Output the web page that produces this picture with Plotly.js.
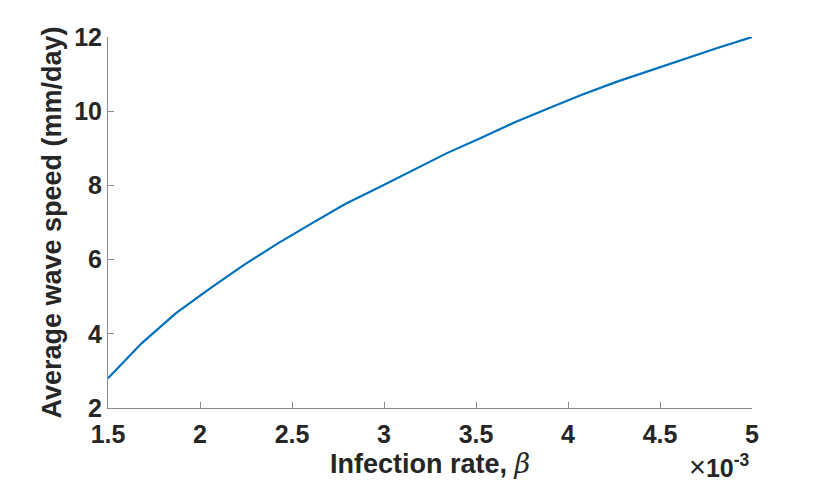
<!DOCTYPE html>
<html>
<head>
<meta charset="utf-8">
<script src="https://cdn.plot.ly/plotly-3.0.1.min.js"></script>
<style>
  html, body { margin: 0; padding: 0; background: #fff; }
  #chart { width: 830px; height: 488px; }
</style>
</head>
<body>
<div id="chart"></div>
<script>
// infection rate beta (x 10^-3) and average wave speed (mm/day)
const beta = [1.5, 1.684, 1.868, 2.053, 2.237, 2.421, 2.605, 2.789, 2.974, 3.158,
              3.342, 3.526, 3.711, 3.895, 4.079, 4.263, 4.447, 4.632, 4.816, 5.0];
const speed = [2.8, 3.75, 4.55, 5.22, 5.85, 6.43, 6.97, 7.5, 7.95, 8.42,
               8.87, 9.28, 9.7, 10.08, 10.45, 10.79, 11.1, 11.42, 11.71, 12.0];
const xTicks = [1.5, 2, 2.5, 3, 3.5, 4, 4.5, 5];
const yTicks = [2, 4, 6, 8, 10, 12];

const txt = '#262626';
const axc = '#8a8a8a';
const fam = 'Liberation Sans, Arial, Helvetica, sans-serif';

let trace = {
  x: beta,
  y: speed,
  type: 'scatter',
  mode: 'lines',
  line: { color: '#0072BD', width: 2.2 },
  hoverinfo: 'none'
};

let layout = {
  width: 830,
  height: 488,
  margin: { l: 108, r: 78, t: 37, b: 80 },
  paper_bgcolor: '#fff',
  plot_bgcolor: '#fff',
  showlegend: false,
  font: { family: fam, color: txt },
  xaxis: {
    range: [1.5, 5],
    tickvals: xTicks,
    ticktext: xTicks.map(String),
    ticks: 'inside',
    ticklen: 6,
    tickcolor: axc,
    ticklabelstandoff: 4,
    showline: true,
    linecolor: axc,
    linewidth: 1,
    showgrid: false,
    zeroline: false,
    tickfont: { size: 25, weight: 'bold', color: txt },
    title: {
      text: 'Infection rate, <span style="font-weight:normal;font-family:\'DejaVu Serif\',serif"><i>β</i></span>',
      font: { size: 27, weight: 'bold', color: txt },
      standoff: 7
    }
  },
  yaxis: {
    range: [2, 12],
    tickvals: yTicks,
    ticktext: yTicks.map(String),
    ticks: 'inside',
    ticklen: 6,
    tickcolor: axc,
    showline: true,
    linecolor: axc,
    linewidth: 1,
    showgrid: false,
    zeroline: false,
    tickfont: { size: 25, weight: 'bold', color: txt },
    title: {
      text: 'Average wave speed (mm/day)',
      font: { size: 27, weight: 'bold', color: txt },
      standoff: 4
    }
  },
  annotations: [{
    xref: 'paper', yref: 'paper',
    x: 1.0, y: 0,
    xanchor: 'right', yanchor: 'top',
    yshift: -40,
    showarrow: false,
    text: '<span style="font-size:29px">×</span><b>10<sup>-3</sup></b>',
    font: { size: 25, color: txt, family: fam }
  }]
};

Plotly.newPlot('chart', [trace], layout, { staticPlot: true, displayModeBar: false });
</script>
</body>
</html>
